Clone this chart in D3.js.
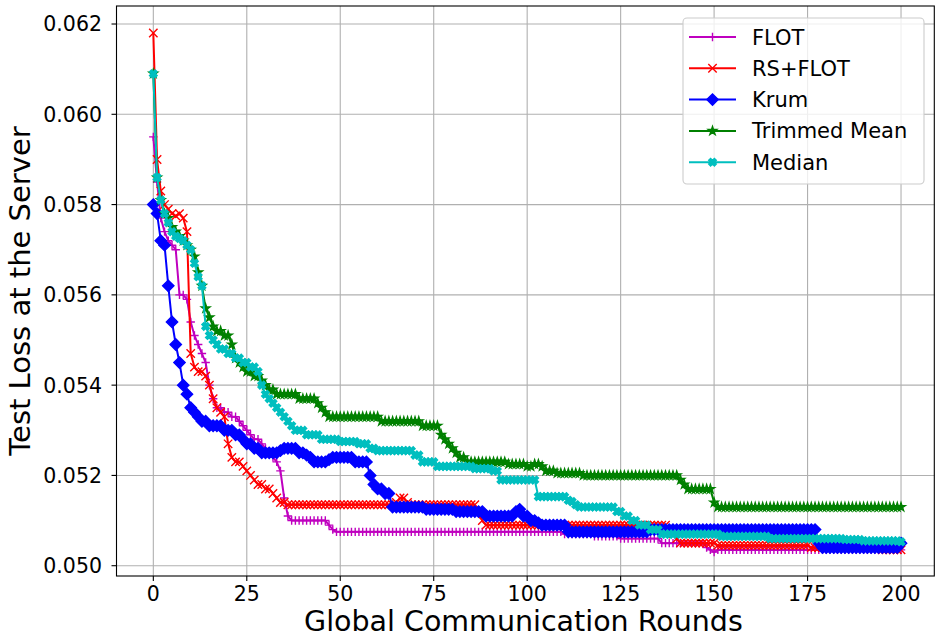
<!DOCTYPE html>
<html>
<head>
<meta charset="utf-8">
<script src="https://cdn.jsdelivr.net/npm/d3@7"></script>
<style>
  body { margin: 0; background: #fff; }
  svg { display: block; }
  text { font-family: "DejaVu Sans", sans-serif; fill: #000; }
</style>
</head>
<body>
<svg id="chart" width="935" height="638"></svg>
<script>
// ---- data (one value per round 0..200) ----
const seriesNames = ["FLOT", "RS+FLOT", "Krum", "Trimmed Mean", "Median"];
const seriesColors = ["#bf00bf", "#ff0000", "#0000ff", "#008000", "#00bfbf"];
const xTicks = [0, 25, 50, 75, 100, 125, 150, 175, 200];
const yTicks = [0.050, 0.052, 0.054, 0.056, 0.058, 0.060, 0.062];

const lossFLOT = [
  0.0595, 0.0585, 0.0577, 0.0574, 0.0572, 0.0571, 0.0570, 0.0560, 0.0560, 0.0559,
  0.0554, 0.0551, 0.0549, 0.0547, 0.0545, 0.0540, 0.0537, 0.0535, 0.0535, 0.0534,
  0.0534, 0.0533, 0.0533, 0.0532, 0.0531, 0.0530, 0.0529, 0.0528, 0.0528, 0.0527,
  0.0526, 0.0525, 0.0524, 0.0523, 0.0521, 0.0515, 0.0511, 0.0510, 0.0510, 0.0510,
  0.0510, 0.0510, 0.0510, 0.0510, 0.0510, 0.0510, 0.0510, 0.0509, 0.0508, 0.05075,
  0.05075, 0.05075, 0.05075, 0.05075, 0.05075, 0.05075, 0.05075, 0.05075, 0.05075, 0.05075,
  0.05075, 0.05075, 0.05075, 0.05075, 0.05075, 0.05075, 0.05075, 0.05075, 0.05075, 0.05075,
  0.05075, 0.05075, 0.05075, 0.05075, 0.05075, 0.05075, 0.05075, 0.05075, 0.05075, 0.05075,
  0.05075, 0.05075, 0.05075, 0.05075, 0.05075, 0.05075, 0.05075, 0.05075, 0.05075, 0.05075,
  0.05075, 0.05075, 0.05075, 0.05075, 0.05075, 0.05075, 0.05075, 0.05075, 0.05075, 0.05075,
  0.05075, 0.05075, 0.05075, 0.05075, 0.05075, 0.05075, 0.05075, 0.05075, 0.05075, 0.05075,
  0.0507, 0.0507, 0.0507, 0.0507, 0.0507, 0.0507, 0.0507, 0.0507, 0.05065, 0.05065,
  0.05065, 0.05065, 0.05065, 0.05065, 0.05065, 0.0506, 0.0506, 0.0506, 0.0506, 0.0506,
  0.0506, 0.0506, 0.0506, 0.0506, 0.0506, 0.0506, 0.0505, 0.0505, 0.0505, 0.0505,
  0.0505, 0.0505, 0.0505, 0.0505, 0.0505, 0.0505, 0.0505, 0.0505, 0.0504, 0.05035,
  0.0503, 0.05035, 0.05035, 0.05035, 0.05035, 0.05035, 0.05035, 0.05035, 0.05035, 0.05035,
  0.05035, 0.05035, 0.05035, 0.05035, 0.05035, 0.05035, 0.05035, 0.05035, 0.05035, 0.05035,
  0.05035, 0.05035, 0.05035, 0.05035, 0.05035, 0.05035, 0.05035, 0.05035, 0.05035, 0.05035,
  0.05035, 0.05035, 0.05035, 0.05035, 0.05035, 0.05035, 0.05035, 0.05035, 0.05035, 0.05035,
  0.05035, 0.05035, 0.05035, 0.05035, 0.05035, 0.05035, 0.05035, 0.05035, 0.05035, 0.05035,
  0.05035
];

const lossRSFLOT = [
  0.0618, 0.0590, 0.0583, 0.0580, 0.0579, 0.0578, 0.05775, 0.0578, 0.0577, 0.0574,
  0.0547, 0.0544, 0.0543, 0.0543, 0.0542, 0.0540, 0.0537, 0.0535, 0.0534, 0.0533,
  0.0527, 0.0524, 0.0523, 0.0523, 0.0522, 0.0521, 0.0520, 0.0519, 0.0518, 0.0518,
  0.0517, 0.0517, 0.0516, 0.0515, 0.0514, 0.0514, 0.05135, 0.05135, 0.05135, 0.05135,
  0.05135, 0.05135, 0.05135, 0.05135, 0.05135, 0.05135, 0.05135, 0.05135, 0.05135, 0.05135,
  0.05135, 0.05135, 0.05135, 0.05135, 0.05135, 0.05135, 0.05135, 0.05135, 0.05135, 0.05135,
  0.05135, 0.05135, 0.05135, 0.05135, 0.05135, 0.0514, 0.0515, 0.0515, 0.0514, 0.05135,
  0.05135, 0.05135, 0.05135, 0.05135, 0.05135, 0.05135, 0.05135, 0.05135, 0.05135, 0.05135,
  0.05135, 0.05135, 0.05135, 0.05135, 0.05135, 0.05135, 0.05135, 0.0512, 0.0510, 0.0509,
  0.0509, 0.0509, 0.0509, 0.0509, 0.0509, 0.0509, 0.0509, 0.0509, 0.0509, 0.0509,
  0.0509, 0.0509, 0.0509, 0.0509, 0.0509, 0.0509, 0.0509, 0.0509, 0.0509, 0.0509,
  0.0509, 0.0509, 0.0509, 0.0509, 0.0509, 0.0509, 0.0509, 0.0509, 0.0509, 0.0509,
  0.0509, 0.0509, 0.0509, 0.0509, 0.0509, 0.0509, 0.0509, 0.0509, 0.0509, 0.0509,
  0.0509, 0.0509, 0.0509, 0.0509, 0.0509, 0.0509, 0.0509, 0.0509, 0.0508, 0.0507,
  0.0506, 0.0505, 0.0505, 0.0505, 0.0505, 0.0505, 0.0505, 0.0505, 0.0505, 0.0505,
  0.0505, 0.05045, 0.05045, 0.05045, 0.05045, 0.05045, 0.05045, 0.05045, 0.05045, 0.05045,
  0.05045, 0.05045, 0.05045, 0.05045, 0.05045, 0.05045, 0.05045, 0.05045, 0.05045, 0.05045,
  0.05045, 0.05045, 0.05045, 0.05045, 0.05045, 0.05045, 0.0504, 0.0504, 0.0504, 0.0504,
  0.0504, 0.0504, 0.0504, 0.0504, 0.0504, 0.0504, 0.0504, 0.0504, 0.0504, 0.0504,
  0.0504, 0.0504, 0.0504, 0.0504, 0.0504, 0.05035, 0.05035, 0.05035, 0.05035, 0.05035,
  0.05035
];

const lossKrum = [
  0.0580, 0.0578, 0.0572, 0.0571, 0.0562, 0.0554, 0.0549, 0.0545, 0.0540, 0.0538,
  0.0535, 0.0534, 0.0533, 0.0532, 0.0532, 0.0531, 0.0531, 0.0531, 0.0531, 0.0530,
  0.0530, 0.0530, 0.0529, 0.0529, 0.0528, 0.0527, 0.0527, 0.0526, 0.0526, 0.0525,
  0.0525, 0.0525, 0.0525, 0.0525, 0.05255, 0.0526, 0.0526, 0.0526, 0.0526, 0.0525,
  0.0525, 0.05245, 0.0524, 0.0523, 0.0523, 0.0523, 0.0523, 0.05235, 0.0524, 0.0524,
  0.0524, 0.0524, 0.0524, 0.0524, 0.0523, 0.0523, 0.0523, 0.0523, 0.0520, 0.0518,
  0.0517, 0.0517, 0.0516, 0.0516, 0.0513, 0.0513, 0.0513, 0.0513, 0.0513, 0.0513,
  0.0513, 0.0513, 0.0513, 0.05125, 0.05125, 0.05125, 0.05125, 0.05125, 0.05125, 0.05125,
  0.05125, 0.0512, 0.0512, 0.0512, 0.0512, 0.0512, 0.0512, 0.0512, 0.0512, 0.0511,
  0.0511, 0.0511, 0.0511, 0.0511, 0.0511, 0.0511, 0.0511, 0.0512, 0.05125, 0.0511,
  0.0511, 0.0510, 0.0510, 0.05095, 0.0509, 0.0509, 0.0509, 0.0509, 0.0509, 0.0509,
  0.0509, 0.05075, 0.05075, 0.05075, 0.05075, 0.05075, 0.05075, 0.05075, 0.05075, 0.05075,
  0.05075, 0.05075, 0.05075, 0.05075, 0.05075, 0.05075, 0.05075, 0.05075, 0.05075, 0.05075,
  0.05075, 0.05075, 0.05075, 0.0508, 0.0508, 0.0508, 0.0508, 0.0508, 0.0508, 0.0508,
  0.0508, 0.0508, 0.0508, 0.0508, 0.0508, 0.0508, 0.0508, 0.0508, 0.0508, 0.0508,
  0.0508, 0.0508, 0.0508, 0.0508, 0.0508, 0.0508, 0.0508, 0.0508, 0.0508, 0.0508,
  0.0508, 0.0508, 0.0508, 0.0508, 0.0508, 0.0508, 0.0508, 0.0508, 0.0508, 0.0508,
  0.0508, 0.0508, 0.0508, 0.0508, 0.0508, 0.0508, 0.0508, 0.0508, 0.0505, 0.0504,
  0.0504, 0.0504, 0.0504, 0.0504, 0.0504, 0.0504, 0.0504, 0.0504, 0.0504, 0.0504,
  0.0504, 0.0504, 0.0504, 0.0504, 0.0504, 0.0504, 0.0504, 0.0504, 0.0504, 0.0504,
  0.0505
];

const lossTrimmed = [
  0.0609, 0.0586, 0.0581, 0.0578, 0.0577, 0.0575, 0.0574, 0.0573, 0.0572, 0.0571,
  0.0570, 0.05685, 0.0565, 0.0562, 0.0557, 0.0555, 0.0553, 0.0552, 0.0552, 0.0551,
  0.0551, 0.0549, 0.0546, 0.0545, 0.0544, 0.0543, 0.0543, 0.0542, 0.0542, 0.0541,
  0.0540, 0.0539, 0.0539, 0.0538, 0.0538, 0.0538, 0.0538, 0.0538, 0.0538, 0.0537,
  0.0537, 0.0537, 0.0537, 0.0537, 0.0536, 0.0535, 0.0534, 0.0533, 0.0533, 0.0533,
  0.0533, 0.0533, 0.0533, 0.0533, 0.0533, 0.0533, 0.0533, 0.0533, 0.0533, 0.0533,
  0.0533, 0.0532, 0.0532, 0.0532, 0.0532, 0.0532, 0.0532, 0.0532, 0.0532, 0.0532,
  0.0532, 0.0532, 0.0531, 0.0531, 0.0531, 0.0531, 0.0531, 0.0529, 0.0528, 0.0527,
  0.0526, 0.0525, 0.0524, 0.0524, 0.0523, 0.0523, 0.0523, 0.0523, 0.0523, 0.0523,
  0.0523, 0.0523, 0.0523, 0.0523, 0.0523, 0.05225, 0.05225, 0.05225, 0.05225, 0.05225,
  0.0522, 0.0522, 0.05225, 0.05225, 0.0522, 0.0521, 0.0521, 0.0521, 0.05205, 0.05205,
  0.05205, 0.05205, 0.05205, 0.05205, 0.05205, 0.0520, 0.0520, 0.0520, 0.0520, 0.0520,
  0.0520, 0.0520, 0.0520, 0.0520, 0.0520, 0.0520, 0.0520, 0.0520, 0.0520, 0.0520,
  0.0520, 0.0520, 0.0520, 0.0520, 0.0520, 0.0520, 0.0520, 0.0520, 0.0520, 0.0520,
  0.0520, 0.0519, 0.0518, 0.0517, 0.0517, 0.0517, 0.0517, 0.0517, 0.0517, 0.0517,
  0.0514, 0.0513, 0.0513, 0.0513, 0.0513, 0.0513, 0.0513, 0.0513, 0.0513, 0.0513,
  0.0513, 0.0513, 0.0513, 0.0513, 0.0513, 0.0513, 0.0513, 0.0513, 0.0513, 0.0513,
  0.0513, 0.0513, 0.0513, 0.0513, 0.0513, 0.0513, 0.0513, 0.0513, 0.0513, 0.0513,
  0.0513, 0.0513, 0.0513, 0.0513, 0.0513, 0.0513, 0.0513, 0.0513, 0.0513, 0.0513,
  0.0513, 0.0513, 0.0513, 0.0513, 0.0513, 0.0513, 0.0513, 0.0513, 0.0513, 0.0513,
  0.0513
];

const lossMedian = [
  0.0609, 0.0586, 0.0581, 0.0578, 0.0576, 0.0574, 0.0573, 0.05725, 0.0572, 0.0571,
  0.0570, 0.0567, 0.0564, 0.0562, 0.0553, 0.0551, 0.0550, 0.0549, 0.0548, 0.0548,
  0.0547, 0.0547, 0.0546, 0.0546, 0.0545, 0.0545, 0.0544, 0.0544, 0.0543, 0.0540,
  0.0538, 0.0537, 0.0536, 0.0535, 0.0534, 0.0533, 0.0532, 0.0531, 0.0530, 0.0530,
  0.0530, 0.0529, 0.0529, 0.0529, 0.0529, 0.0528, 0.0528, 0.0528, 0.0528, 0.0528,
  0.05275, 0.05275, 0.05275, 0.05275, 0.05275, 0.0527, 0.0527, 0.0527, 0.0526, 0.0526,
  0.05255, 0.05255, 0.05255, 0.05255, 0.05255, 0.05255, 0.05255, 0.05255, 0.05255, 0.05255,
  0.05245, 0.05245, 0.0523, 0.0523, 0.0523, 0.0523, 0.0522, 0.0522, 0.0522, 0.0522,
  0.0522, 0.0522, 0.0522, 0.0522, 0.0522, 0.0522, 0.05215, 0.05215, 0.05215, 0.05215,
  0.05215, 0.0521, 0.0521, 0.0519, 0.0519, 0.0519, 0.0519, 0.0519, 0.0519, 0.0519,
  0.0519, 0.0519, 0.0519, 0.05153, 0.05153, 0.05153, 0.05153, 0.05153, 0.05153, 0.05153,
  0.05153, 0.05145, 0.05142, 0.05135, 0.0513, 0.0513, 0.0513, 0.0513, 0.0513, 0.0513,
  0.0513, 0.0513, 0.0513, 0.0513, 0.0512, 0.0512, 0.0511, 0.0511, 0.0510, 0.0510,
  0.0509, 0.0509, 0.0509, 0.0508, 0.0508, 0.0508, 0.0507, 0.0507, 0.0507, 0.0507,
  0.0507, 0.0507, 0.0507, 0.0507, 0.0507, 0.0507, 0.0507, 0.0507, 0.0507, 0.0507,
  0.0507, 0.0507, 0.05065, 0.05065, 0.05065, 0.05065, 0.05065, 0.05065, 0.05065, 0.05065,
  0.05065, 0.05065, 0.05065, 0.05065, 0.05065, 0.0506, 0.0506, 0.0506, 0.0506, 0.0506,
  0.0506, 0.0506, 0.0506, 0.0506, 0.0506, 0.0506, 0.0506, 0.0506, 0.0506, 0.0506,
  0.0506, 0.0506, 0.0506, 0.0506, 0.0506, 0.05058, 0.05058, 0.05058, 0.05058, 0.05058,
  0.05055, 0.05055, 0.05055, 0.05055, 0.05055, 0.05055, 0.05055, 0.05055, 0.05055, 0.05055,
  0.05053
];

const allLosses = [lossFLOT, lossRSFLOT, lossKrum, lossTrimmed, lossMedian];

// ---- layout ----
const svg = d3.select("#chart");
const plot = { left: 116.5, right: 934.3, top: 6, bottom: 576 };

const scale_x = d3.scaleLinear()
    .domain([-9.85, 208.9])
    .range([plot.left, plot.right]);

const scale_y = d3.scaleLinear()
    .domain([0.049772, 0.062399])
    .range([plot.bottom, plot.top]);

const gridColor = "#b0b0b0";

// grid
svg.append("g")
    .selectAll("line")
    .data(xTicks)
    .join("line")
    .attr("x1", d => scale_x(d)).attr("x2", d => scale_x(d))
    .attr("y1", plot.top).attr("y2", plot.bottom)
    .attr("stroke", gridColor).attr("stroke-width", 1.1);

svg.append("g")
    .selectAll("line")
    .data(yTicks)
    .join("line")
    .attr("x1", plot.left).attr("x2", plot.right)
    .attr("y1", d => scale_y(d)).attr("y2", d => scale_y(d))
    .attr("stroke", gridColor).attr("stroke-width", 1.1);

svg.append("clipPath")
    .attr("id", "plot-clip")
    .append("rect")
    .attr("x", plot.left).attr("y", plot.top)
    .attr("width", plot.right - plot.left).attr("height", plot.bottom - plot.top);

// marker shapes, roughly matplotlib '+', 'x', 'D', '*', 'X'
const markerSize = 4.2;
const markerShapes = [
    { path: `M${-markerSize},0H${markerSize}M0,${-markerSize}V${markerSize}`, filled: false, rotate: 0 },
    { path: `M${-markerSize},${-markerSize}L${markerSize},${markerSize}M${-markerSize},${markerSize}L${markerSize},${-markerSize}`, filled: false, rotate: 0 },
    { path: d3.symbol(d3.symbolSquare, 64)(), filled: true, rotate: 45 },
    { path: d3.symbol(d3.symbolStar, 22)(), filled: true, rotate: 0 },
    { path: d3.symbol(d3.symbolCross, 36)(), filled: true, rotate: 45 }
];

const line = d3.line()
    .x((d, i) => scale_x(i))
    .y(d => scale_y(d));

const seriesLayer = svg.append("g").attr("clip-path", "url(#plot-clip)");

allLosses.forEach((values, k) => {
    const color = seriesColors[k];
    const shape = markerShapes[k];
    const g = seriesLayer.append("g").attr("class", "series");

    g.append("path")
        .datum(values)
        .attr("d", line)
        .attr("fill", "none")
        .attr("stroke", color)
        .attr("stroke-width", 2)
        .attr("stroke-linejoin", "round");

    g.selectAll(".marker")
        .data(values)
        .join("path")
        .attr("class", "marker")
        .attr("d", shape.path)
        .attr("transform", (d, i) => `translate(${scale_x(i)},${scale_y(d)}) rotate(${shape.rotate})`)
        .attr("fill", shape.filled ? color : "none")
        .attr("stroke", color)
        .attr("stroke-width", 1.4);
});

// spines
svg.append("rect")
    .attr("x", plot.left).attr("y", plot.top)
    .attr("width", plot.right - plot.left).attr("height", plot.bottom - plot.top)
    .attr("fill", "none").attr("stroke", "#000").attr("stroke-width", 1.1);

// ticks + labels
const xAxis = svg.append("g");
xAxis.selectAll("line")
    .data(xTicks)
    .join("line")
    .attr("x1", d => scale_x(d)).attr("x2", d => scale_x(d))
    .attr("y1", plot.bottom).attr("y2", plot.bottom + 5)
    .attr("stroke", "#000").attr("stroke-width", 1.1);
xAxis.selectAll("text")
    .data(xTicks)
    .join("text")
    .text(d => d)
    .attr("x", d => scale_x(d))
    .attr("y", 600.5)
    .attr("text-anchor", "middle")
    .attr("font-size", 20.5);

const yAxis = svg.append("g");
yAxis.selectAll("line")
    .data(yTicks)
    .join("line")
    .attr("x1", plot.left - 5).attr("x2", plot.left)
    .attr("y1", d => scale_y(d)).attr("y2", d => scale_y(d))
    .attr("stroke", "#000").attr("stroke-width", 1.1);
yAxis.selectAll("text")
    .data(yTicks)
    .join("text")
    .text(d => d.toFixed(3))
    .attr("x", 102)
    .attr("y", d => scale_y(d))
    .attr("dy", "0.36em")
    .attr("text-anchor", "end")
    .attr("font-size", 20.5);

svg.append("text")
    .text("Global Communication Rounds")
    .attr("x", (plot.left + plot.right) / 2 - 2)
    .attr("y", 631)
    .attr("text-anchor", "middle")
    .attr("font-size", 28.5);

svg.append("text")
    .text("Test Loss at the Server")
    .attr("transform", `translate(30,${(plot.top + plot.bottom) / 2}) rotate(-90)`)
    .attr("text-anchor", "middle")
    .attr("font-size", 29);

// legend
const legend = svg.append("g").attr("class", "legend");
legend.append("rect")
    .attr("x", 683).attr("y", 18)
    .attr("width", 241).attr("height", 166)
    .attr("rx", 4)
    .attr("fill", "#fff").attr("fill-opacity", 0.8)
    .attr("stroke", "#cccccc").attr("stroke-width", 1.1);

const legendRows = legend.selectAll(".legend-row")
    .data(seriesNames)
    .join("g")
    .attr("class", "legend-row")
    .attr("transform", (d, i) => `translate(689,${37 + i * 31.3})`);

legendRows.append("line")
    .attr("x1", 0).attr("x2", 47)
    .attr("y1", 0).attr("y2", 0)
    .attr("stroke", (d, i) => seriesColors[i])
    .attr("stroke-width", 2);

legendRows.append("path")
    .attr("d", (d, i) => markerShapes[i].path)
    .attr("transform", (d, i) => `translate(23.5,0) rotate(${markerShapes[i].rotate})`)
    .attr("fill", (d, i) => markerShapes[i].filled ? seriesColors[i] : "none")
    .attr("stroke", (d, i) => seriesColors[i])
    .attr("stroke-width", 1.4);

legendRows.append("text")
    .text(d => d)
    .attr("x", 63)
    .attr("y", 0)
    .attr("dy", "0.36em")
    .attr("font-size", 21);
</script>
</body>
</html>
